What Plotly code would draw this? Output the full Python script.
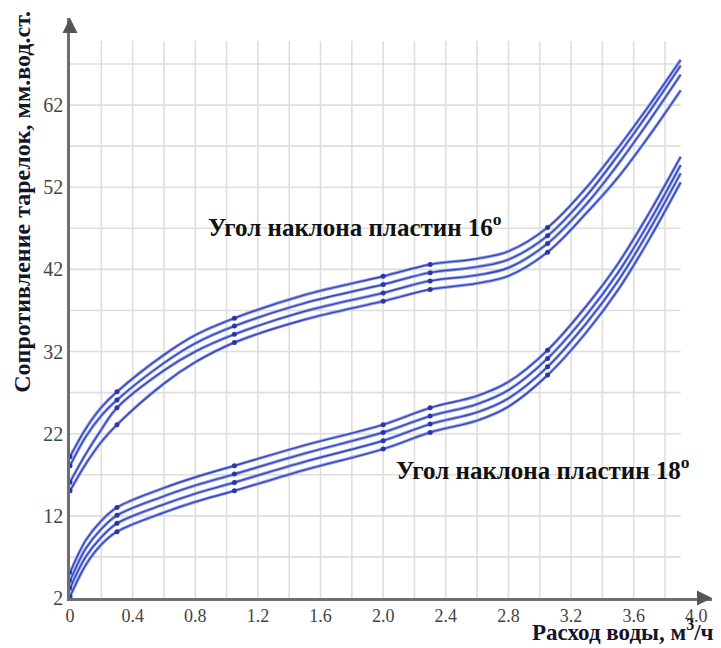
import plotly.graph_objects as go

# ---------------- data ----------------
x_pts = [0, 0.1, 0.2, 0.3, 0.6, 0.8, 1.05, 1.5, 2.0, 2.3, 2.6, 2.8, 3.05, 3.3, 3.5, 3.7, 3.9]
marker_x = [0, 0.3, 1.05, 2.0, 2.3, 3.05]

# angle 16 deg (upper group)
u1 = [19.2, 22.6, 25.2, 27.1, 31.6, 34.0, 36.06, 38.9, 41.17, 42.6, 43.3, 44.2, 47.1, 52.0, 56.8, 62.0, 67.5]
u2 = [18.1, 21.6, 24.2, 26.1, 30.6, 33.0, 35.1, 37.9, 40.16, 41.6, 42.3, 43.2, 46.1, 51.0, 55.9, 61.2, 66.8]
u3 = [16.1, 19.5, 22.5, 25.15, 29.7, 32.0, 34.1, 36.9, 39.14, 40.6, 41.3, 42.2, 45.15, 50.0, 54.8, 60.1, 65.7]
u4 = [15.05, 18.3, 21.0, 23.1, 28.1, 30.7, 33.1, 35.9, 38.13, 39.55, 40.3, 41.2, 44.1, 48.9, 53.2, 58.3, 63.8]

# angle 18 deg (lower group)
l1 = [5.08, 9.0, 11.4, 13.03, 15.4, 16.7, 18.1, 20.6, 23.1, 25.15, 26.6, 28.3, 32.17, 37.6, 42.7, 48.9, 55.7]
l2 = [4.07, 8.0, 10.4, 12.06, 14.4, 15.7, 17.08, 19.6, 22.16, 24.14, 25.6, 27.3, 31.16, 36.5, 41.6, 47.8, 54.7]
l3 = [3.18, 7.0, 9.4, 11.09, 13.4, 14.7, 16.07, 18.6, 21.14, 23.17, 24.6, 26.3, 30.14, 35.5, 40.6, 46.8, 53.7]
l4 = [2.16, 6.0, 8.5, 10.07, 12.4, 13.7, 15.05, 17.6, 20.13, 22.16, 23.6, 25.3, 29.13, 34.4, 39.5, 45.7, 52.6]

x_ticks = [0, 0.4, 0.8, 1.2, 1.6, 2.0, 2.4, 2.8, 3.2, 3.6, 4.0]
x_ticklabels = ["0", "0.4", "0.8", "1.2", "1.6", "2.0", "2.4", "2.8", "3.2", "3.6", "4.0"]
y_ticks = [2, 12, 22, 32, 42, 52, 62]
y_ticklabels = ["2", "12", "22", "32", "42", "52", "62"]
x_grid = [0.2, 0.4, 0.6, 0.8, 1.0, 1.2, 1.4, 1.6, 1.8, 2.0, 2.2, 2.4, 2.6, 2.8, 3.0, 3.2, 3.4, 3.6, 3.8]
y_grid = [7, 12, 17, 22, 27, 32, 37, 42, 47, 52, 57, 62, 67]

label16 = "Угол наклона пластин 16<sup>o</sup>"
label18 = "Угол наклона пластин 18<sup>o</sup>"
y_title = "Сопротивление тарелок, мм.вод.ст."
x_title = "Расход воды, м<sup>3</sup>/ч"

# ---------------- figure ----------------
SERIF = "Liberation Serif, Times New Roman, DejaVu Serif, serif"
GRID_X_END = 3.9
GRID_Y_END = 69.8

fig = go.Figure()

for curve in [u1, u2, u3, u4, l1, l2, l3, l4]:
    fig.add_trace(go.Scatter(x=x_pts, y=curve, mode="lines",
                             line=dict(color="#90a2ec", width=3.2, shape="spline", smoothing=1.0),
                             hoverinfo="skip", showlegend=False))
    fig.add_trace(go.Scatter(x=x_pts, y=curve, mode="lines",
                             line=dict(color="#3a45b4", width=1.4, shape="spline", smoothing=1.0),
                             showlegend=False))
    mx = [x for x in x_pts if x in marker_x]
    my = [y for x, y in zip(x_pts, curve) if x in marker_x]
    fig.add_trace(go.Scatter(x=mx, y=my, mode="markers",
                             marker=dict(color="#2c35a6", size=5),
                             showlegend=False))

shapes = []
for gx in x_grid:
    shapes.append(dict(type="line", xref="x", yref="y", x0=gx, x1=gx, y0=2, y1=GRID_Y_END,
                       line=dict(color="#dedede", width=1.6), layer="below"))
for gy in y_grid:
    shapes.append(dict(type="line", xref="x", yref="y", x0=0, x1=GRID_X_END, y0=gy, y1=gy,
                       line=dict(color="#dedede", width=1.6), layer="below"))

bold = dict(family=SERIF, size=25, color="#111111")
annotations = [
    dict(x=0.87, y=47.4, xref="x", yref="y", text="<b>" + label16 + "</b>", showarrow=False,
         xanchor="left", yanchor="middle", font=bold),
    dict(x=2.07, y=17.8, xref="x", yref="y", text="<b>" + label18 + "</b>", showarrow=False,
         xanchor="left", yanchor="middle", font=bold),
    dict(x=-0.075, y=0.683, xref="paper", yref="paper", text="<b>" + y_title + "</b>",
         showarrow=False, textangle=-90, xanchor="center", yanchor="middle",
         font=dict(family=SERIF, size=24, color="#14142a")),
    dict(x=1.007, xref="paper", y=-0.0845, yref="paper", text="<b>" + x_title + "</b>",
         showarrow=False, xanchor="right", yanchor="bottom",
         font=dict(family=SERIF, size=23, color="#14142a")),
    # axis arrows
    dict(x=4.1, y=2, xref="x", yref="y", ax=-14, ay=0, text="", showarrow=True,
         arrowhead=2, arrowsize=1.2, arrowwidth=2.5, arrowcolor="#555555"),
    dict(x=0, y=72.6, xref="x", yref="y", ax=0, ay=14, text="", showarrow=True,
         arrowhead=2, arrowsize=1.2, arrowwidth=2.5, arrowcolor="#555555"),
]

fig.update_layout(
    width=721, height=648,
    margin=dict(l=70, r=9, t=18, b=50, autoexpand=False),
    paper_bgcolor="white", plot_bgcolor="white",
    shapes=shapes, annotations=annotations,
    showlegend=False,
)
fig.update_xaxes(range=[0, 4.1], showgrid=False, zeroline=False, automargin=False,
                 showline=True, linecolor="#6e6e6e", linewidth=2.5,
                 tickmode="array", tickvals=x_ticks, ticktext=x_ticklabels,
                 ticks="", ticklabelstandoff=0,
                 tickfont=dict(family=SERIF, size=18, color="#444444"))
fig.update_yaxes(range=[2, 72.6], showgrid=False, zeroline=False, automargin=False,
                 showline=True, linecolor="#6e6e6e", linewidth=2.5,
                 tickmode="array", tickvals=y_ticks, ticktext=y_ticklabels,
                 ticks="", tickfont=dict(family=SERIF, size=20, color="#444444"))

fig.write_html("out.html", config={"displayModeBar": False},
               post_script="document.body.style.margin='0px';")
